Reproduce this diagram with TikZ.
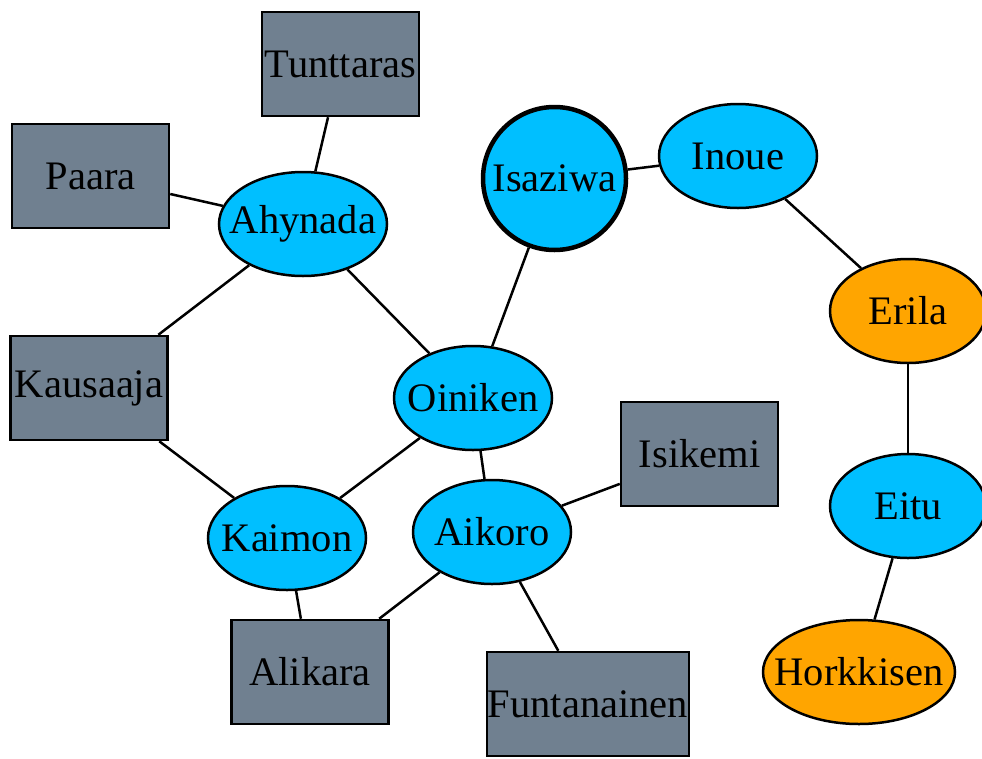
\documentclass[tikz,border=0pt]{standalone}
\usepackage{fontspec}
\setmainfont{Liberation Serif}
\newfontfamily\labelfont{Liberation Serif}
\usetikzlibrary{shapes.geometric}
\definecolor{skyfill}{HTML}{00BFFF}
\definecolor{slatefill}{HTML}{708090}
\definecolor{orangefill}{HTML}{FFA500}
\begin{document}
\begin{tikzpicture}[x=1pt,y=-1pt,
  every node/.style={font=\labelfont\fontsize{40.5}{48}\selectfont, inner sep=0pt},
  shaped/.style={draw=black, line width=2.5pt},
  person/.style={shaped, ellipse, fill=skyfill, minimum width=158pt, minimum height=104pt, label={center:#1}},
  hot/.style={shaped, ellipse, fill=orangefill, minimum width=156pt, minimum height=104pt, label={center:#1}},
  place/.style={shaped, rectangle, fill=slatefill, minimum width=157pt, minimum height=104pt},
  link/.style={line width=2.5pt}]
\useasboundingbox (0,0) rectangle (982,758);

% boxes
\node[place] (tunttaras) at (340.5,64) {Tunttaras};
\node[place] (paara) at (90.5,176) {Paara};
\node[place] (kausaaja) at (89,388) {Kausaaja};
\node[place] (isikemi) at (699.5,454) {Isikemi};
\node[place] (alikara) at (310,672) {Alikara};
\node[place, minimum width=202pt] (funtanainen) at (588,704) {Funtanainen};

% ellipses (text placed as a centred label so the outline keeps its size)
\node[person=Ahynada, minimum width=168pt] (ahynada) at (303,224) {};
\node[person=Oiniken] (oiniken) at (473,398) {};
\node[person=Isaziwa, circle, minimum size=143pt, line width=4.5pt] (isaziwa) at (554.5,178.5) {};
\node[person=Inoue] (inoue) at (738,156) {};
\node[hot=Erila] (erila) at (908,311) {};
\node[person=Eitu, minimum width=156pt] (eitu) at (908,506) {};
\node[hot=Horkkisen, minimum width=192pt] (horkkisen) at (859,672) {};
\node[person=Aikoro] (aikoro) at (492,532) {};
\node[person=Kaimon] (kaimon) at (287,538) {};

% connectors
\draw[link] (tunttaras) -- (ahynada);
\draw[link] (paara) -- (ahynada);
\draw[link] (ahynada) -- (kausaaja);
\draw[link] (ahynada) -- (oiniken);
\draw[link] (kausaaja) -- (kaimon);
\draw[link] (kaimon) -- (oiniken);
\draw[link] (oiniken) -- (isaziwa);
\draw[link] (oiniken) -- (aikoro);
\draw[link] (isaziwa) -- (inoue);
\draw[link] (inoue) -- (erila);
\draw[link] (erila) -- (eitu);
\draw[link] (eitu) -- (horkkisen);
\draw[link] (aikoro) -- (isikemi);
\draw[link] (aikoro) -- (alikara);
\draw[link] (aikoro) -- (funtanainen);
\draw[link] (kaimon) -- (alikara);
\end{tikzpicture}
\end{document}
